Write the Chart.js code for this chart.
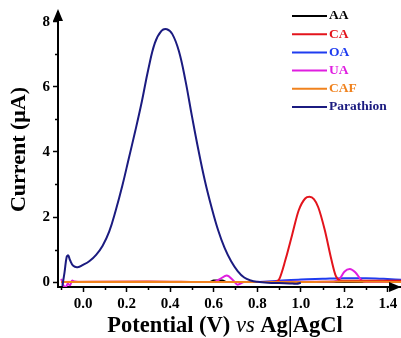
<!DOCTYPE html>
<html>
<head>
<meta charset="utf-8">
<script src="https://cdn.jsdelivr.net/npm/chart.js@4.4.0/dist/chart.umd.min.js"></script>
<style>
  html, body { margin: 0; padding: 0; background: #fff; }
  #wrap { width: 401px; height: 338px; }
</style>
</head>
<body>
<div id="wrap"><canvas id="chart"></canvas></div>
<script>
// series, potential (V) and current (uA)
const names = ['AA', 'CA', 'OA', 'UA', 'CAF', 'Parathion'];
const colors = ['#000000', '#e3141c', '#1f3cf0', '#e01ee0', '#f0821e', '#1b1b80'];

const aaV = [-0.1, 0.3, 0.58, 0.6, 0.64, 0.66, 0.9, 0.95, 1.0, 1.46];
const aaI = [0.0, 0.0, 0.0, 0.05, 0.05, 0.0, 0.0, -0.03, 0.0, 0.0];

const caV = [-0.1, 0.3, 0.6, 0.88, 0.9, 0.93, 0.96, 0.99, 1.02, 1.04, 1.06, 1.08, 1.11, 1.14, 1.16, 1.18, 1.2, 1.46];
const caI = [0.0, 0.02, 0.0, 0.0, 0.08, 0.7, 1.45, 2.2, 2.57, 2.62, 2.55, 2.3, 1.6, 0.7, 0.2, 0.05, 0.04, 0.04];

const oaV = [-0.1, 0.5, 0.8, 0.85, 0.9, 1.0, 1.1, 1.2, 1.3, 1.38, 1.46];
const oaI = [0.0, 0.0, 0.0, 0.02, 0.04, 0.08, 0.1, 0.12, 0.12, 0.1, 0.07];

const uaV = [-0.1, -0.09, -0.08, -0.07, -0.06, -0.05, -0.04, 0.0, 0.6, 0.63, 0.66, 0.69, 0.71, 0.74, 1.15, 1.18, 1.2, 1.225, 1.25, 1.28, 1.3, 1.46];
const uaI = [0.1, -0.1, -0.15, -0.05, -0.1, 0.05, 0.02, 0.0, 0.0, 0.1, 0.2, 0.05, -0.08, 0.0, 0.02, 0.12, 0.32, 0.4, 0.3, 0.05, 0.0, 0.0];

const cafV = [-0.1, 0.3, 0.7, 1.0, 1.2, 1.46];
const cafI = [0.0, 0.0, 0.0, 0.0, 0.02, 0.0];

const parV = [-0.095, -0.085, -0.075, -0.068, -0.06, -0.045, -0.025, 0.0, 0.03, 0.06, 0.09, 0.12, 0.15, 0.18, 0.21, 0.24, 0.27, 0.30, 0.33, 0.36, 0.385, 0.41, 0.44, 0.47, 0.50, 0.53, 0.56, 0.59, 0.62, 0.65, 0.68, 0.71, 0.74, 0.77, 0.80, 0.85, 0.90, 0.95, 0.98, 1.0];
const parI = [-0.12, 0.3, 0.78, 0.82, 0.68, 0.5, 0.46, 0.53, 0.65, 0.84, 1.12, 1.55, 2.2, 2.95, 3.8, 4.65, 5.55, 6.55, 7.35, 7.72, 7.77, 7.62, 7.1, 6.2, 5.1, 4.05, 3.1, 2.3, 1.6, 1.05, 0.64, 0.34, 0.14, 0.05, 0.01, -0.02, -0.03, -0.04, -0.05, -0.02];

const seriesV = [aaV, caV, oaV, uaV, cafV, parV];
const seriesI = [aaI, caI, oaI, uaI, cafI, parI];
const drawOrder = [5, 2, 4, 3, 1, 0]; // lower is on top

const xTicks = [-0.1, 0, 0.1, 0.2, 0.3, 0.4, 0.5, 0.6, 0.7, 0.8, 0.9, 1.0, 1.1, 1.2, 1.3, 1.4];
const yTicks = [0, 1, 2, 3, 4, 5, 6, 7, 8];

const serif = '"Liberation Serif", "Times New Roman", serif';

function points(xs, ys) {
  return xs.map((x, i) => ({ x: x, y: ys[i] }));
}

const datasets = names.map((name, i) => ({
  label: name,
  data: points(seriesV[i], seriesI[i]),
  borderColor: colors[i],
  backgroundColor: colors[i],
  borderWidth: 2,
  pointRadius: 0,
  tension: name === 'Parathion' ? 0.4 : 0,
  cubicInterpolationMode: name === 'Parathion' ? 'default' : 'monotone',
  order: drawOrder[i]
}));

const isMajorX = (v) => { const r = Math.round(v * 10); return r >= 0 && r % 2 === 0; };
const isMajorY = (v) => Math.round(v) % 2 === 0;

// legend in the top right corner, text coloured like the line
const legendBox = {
  id: 'legendBox',
  afterDraw(chart) {
    const ctx = chart.ctx;
    ctx.save();
    ctx.font = 'bold 13.5px ' + serif;
    ctx.textBaseline = 'middle';
    chart.data.datasets.forEach((ds, i) => {
      const y = 16 + i * 18.2;
      ctx.strokeStyle = ds.borderColor;
      ctx.lineWidth = 2;
      ctx.beginPath();
      ctx.moveTo(292, y);
      ctx.lineTo(327, y);
      ctx.stroke();
      ctx.fillStyle = ds.borderColor;
      ctx.fillText(ds.label, 329, y);
    });
    ctx.restore();
  }
};

// short minor ticks, arrow heads on the axes and x title with italic "vs"
const axisDeco = {
  id: 'axisDeco',
  afterDraw(chart) {
    const ctx = chart.ctx;
    const a = chart.chartArea;
    const sx = chart.scales.x, sy = chart.scales.y;
    ctx.save();
    ctx.strokeStyle = '#000';
    ctx.lineWidth = 1.5;
    ctx.beginPath();
    xTicks.filter(v => !isMajorX(v)).forEach(v => {
      const px = Math.round(sx.getPixelForValue(v)) + 0.5;
      ctx.moveTo(px, a.bottom);
      ctx.lineTo(px, a.bottom + 3);
    });
    yTicks.filter(v => !isMajorY(v)).forEach(v => {
      const py = Math.round(sy.getPixelForValue(v)) + 0.5;
      ctx.moveTo(a.left, py);
      ctx.lineTo(a.left - 3, py);
    });
    ctx.stroke();

    ctx.fillStyle = '#000';
    ctx.beginPath();
    ctx.moveTo(a.left, a.top - 3);
    ctx.lineTo(a.left - 5, a.top + 9);
    ctx.lineTo(a.left + 5, a.top + 9);
    ctx.closePath();
    ctx.fill();
    ctx.beginPath();
    ctx.moveTo(a.right, a.bottom);
    ctx.lineTo(a.right - 12, a.bottom - 5);
    ctx.lineTo(a.right - 12, a.bottom + 5);
    ctx.closePath();
    ctx.fill();

    const parts = [
      ['Potential (V) ', 'bold 22.5px ' + serif],
      ['vs', 'italic 22.5px ' + serif],
      [' Ag|AgCl', 'bold 22.5px ' + serif]
    ];
    let total = 0;
    parts.forEach(p => { ctx.font = p[1]; total += ctx.measureText(p[0]).width; });
    let x = 225 - total / 2;
    ctx.textBaseline = 'middle';
    parts.forEach(p => {
      ctx.font = p[1];
      ctx.fillText(p[0], x, 326);
      x += ctx.measureText(p[0]).width;
    });
    ctx.restore();
  }
};

const tickGrid = (major) => ({
  display: true,
  drawOnChartArea: false,
  drawTicks: true,
  tickLength: 5,
  tickWidth: 1.5,
  tickColor: (c) => (c.tick && major(c.tick.value) ? '#000' : 'rgba(0,0,0,0)')
});

new Chart(document.getElementById('chart'), {
  type: 'line',
  data: { datasets: datasets },
  plugins: [legendBox, axisDeco],
  options: {
    responsive: true,
    maintainAspectRatio: false,
    animation: false,
    layout: { padding: { top: 12, right: 0, left: 0, bottom: 0 } },
    plugins: {
      legend: { display: false },
      tooltip: { enabled: false }
    },
    scales: {
      x: {
        type: 'linear',
        min: -0.115,
        max: 1.46,
        afterBuildTicks: (scale) => { scale.ticks = xTicks.map(v => ({ value: v })); },
        afterFit: (scale) => { scale.height = 51; },
        border: { display: true, color: '#000', width: 2 },
        grid: tickGrid(isMajorX),
        ticks: {
          autoSkip: false,
          maxRotation: 0,
          padding: 3,
          color: '#000',
          font: { family: serif, size: 15, weight: 'bold' },
          callback: (v) => (isMajorX(v) ? (Math.round(v * 10) / 10).toFixed(1) : '')
        }
      },
      y: {
        type: 'linear',
        min: -0.15,
        max: 8.3,
        afterBuildTicks: (scale) => { scale.ticks = yTicks.map(v => ({ value: v })); },
        afterFit: (scale) => { scale.width = 58; },
        border: { display: true, color: '#000', width: 2 },
        grid: tickGrid(isMajorY),
        title: {
          display: true,
          text: 'Current (μA)',
          color: '#000',
          font: { family: serif, size: 22, weight: 'bold' },
          padding: { top: 6, bottom: 0 }
        },
        ticks: {
          autoSkip: false,
          padding: 3,
          color: '#000',
          font: { family: serif, size: 15, weight: 'bold' },
          callback: (v) => (isMajorY(v) ? String(Math.round(v)) : '')
        }
      }
    }
  }
});
</script>
</body>
</html>
